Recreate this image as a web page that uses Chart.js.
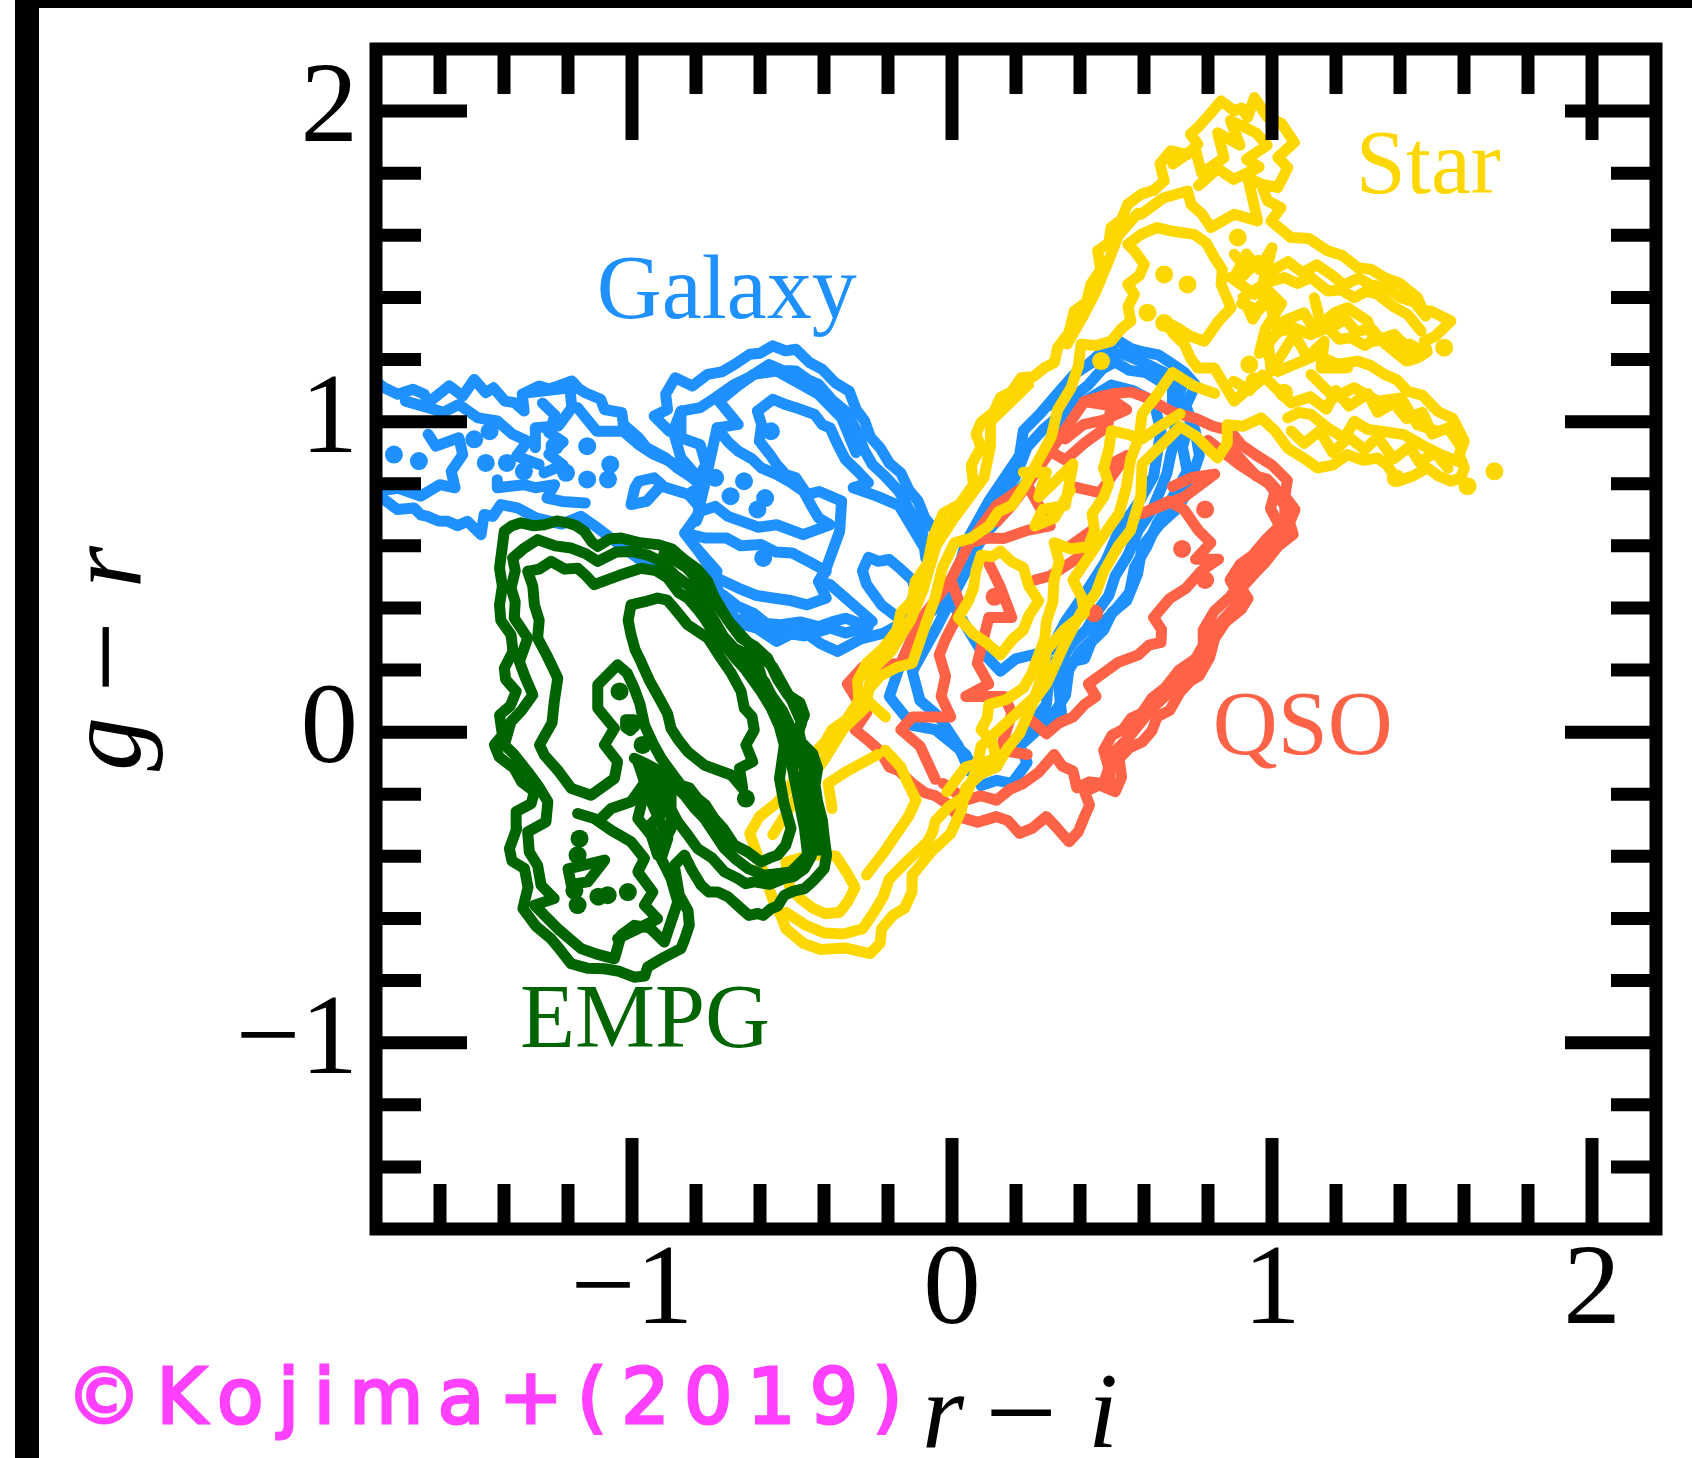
<!DOCTYPE html>
<html>
<head>
<meta charset="utf-8">
<title>g-r vs r-i</title>
<script src="https://cdn.jsdelivr.net/npm/chart.js@4"></script>
<style>
  html, body { margin: 0; padding: 0; background: #fff; }
  #page { position: relative; width: 1692px; height: 1458px; overflow: hidden; background: #fff; }
  #topbar { position: absolute; left: 15px; right: 0; top: 0; height: 8px; background: #000; }
  #sidebar { position: absolute; left: 15px; top: 0; bottom: 0; width: 24px; background: #000; }
  #credit { position: absolute; left: 66px; top: 1352px; color: #ff40ff; font: 76px "DejaVu Sans"; letter-spacing: 14.5px; white-space: nowrap; -webkit-text-stroke: 3px #ff40ff; }
  canvas { position: absolute; left: 0; top: 0; }
</style>
</head>
<body>
<div id="page">
  <canvas id="myChart" width="1692" height="1458"></canvas>
  <div id="topbar"></div>
  <div id="sidebar"></div>
  <div id="credit">©Kojima+(2019)</div>
</div>
<script>
// tick positions
const xMajorTicks = [-1, 0, 1, 2];
const yMajorTicks = [-1, 0, 1, 2];
const xMinorTicks = [-1.6, -1.4, -1.2, -0.8, -0.6, -0.4, -0.2, 0.2, 0.4, 0.6, 0.8, 1.2, 1.4, 1.6, 1.8];
const yMinorTicks = [-1.4, -1.2, -0.8, -0.6, -0.4, -0.2, 0.2, 0.4, 0.6, 0.8, 1.2, 1.4, 1.6, 1.8];

// EMPG contours [r-i, g-r]
const empgOuter = [[-1.399,.647],[-1.375,.665],[-1.347,.674],[-1.310,.665],[-1.274,.668],[-1.235,.680],[-1.201,.674],[-1.175,.665],[-1.149,.647],[-1.125,.612],[-1.107,.598],[-1.070,.622],[-1.034,.625],[-.975,.610],[-.920,.604],[-.875,.590],[-.836,.555],[-.795,.525],[-.763,.485],[-.745,.440],[-.722,.399],[-.690,.345],[-.659,.303],[-.615,.275],[-.576,.238],[-.545,.170],[-.513,.120],[-.475,.095],[-.461,.055],[-.480,.010],[-.472,-.031],[-.435,-.070],[-.420,-.117],[-.428,-.170],[-.420,-.224],[-.405,-.285],[-.399,-.342],[-.392,-.395],[-.399,-.439],[-.435,-.480],[-.461,-.504],[-.495,-.512],[-.524,-.525],[-.545,-.560],[-.565,-.568],[-.590,-.590],[-.607,-.584],[-.635,-.590],[-.659,-.568],[-.700,-.530],[-.732,-.515],[-.760,-.515],[-.784,-.493],[-.815,-.440],[-.836,-.396],[-.868,-.429],[-.852,-.525],[-.825,-.575],[-.821,-.622],[-.835,-.665],[-.847,-.697],[-.900,-.725],[-.951,-.756],[-.960,-.785],[-.993,-.789],[-1.040,-.770],[-1.086,-.762],[-1.140,-.760],[-1.190,-.746],[-1.225,-.700],[-1.253,-.665],[-1.300,-.625],[-1.341,-.568],[-1.325,-.500],[-1.336,-.439],[-1.375,-.415],[-1.383,-.375],[-1.360,-.310],[-1.362,-.256],[-1.315,-.230],[-1.305,-.192],[-1.345,-.160],[-1.368,-.117],[-1.415,-.080],[-1.430,-.041],[-1.405,-.010],[-1.414,.055],[-1.380,.085],[-1.362,.131],[-1.395,.170],[-1.399,.206],[-1.372,.260],[-1.378,.313],[-1.410,.360],[-1.414,.410],[-1.405,.470],[-1.414,.528],[-1.405,.600]];
const empgSecond = [[-1.373,.561],[-1.340,.590],[-1.295,.620],[-1.240,.600],[-1.190,.593],[-1.145,.575],[-1.107,.550],[-1.050,.580],[-1.003,.582],[-.950,.570],[-.909,.550],[-.865,.505],[-.826,.475],[-.785,.430],[-.753,.378],[-.715,.310],[-.680,.270],[-.640,.250],[-.607,.217],[-.590,.160],[-.565,.120],[-.530,.070],[-.503,.012],[-.520,-.020],[-.513,-.052],[-.480,-.080],[-.461,-.117],[-.462,-.170],[-.451,-.224],[-.440,-.290],[-.430,-.353],[-.440,-.400],[-.461,-.439],[-.495,-.465],[-.524,-.471],[-.570,-.490],[-.618,-.482],[-.645,-.488],[-.670,-.471],[-.711,-.450],[-.750,-.405],[-.795,-.375],[-.830,-.325],[-.857,-.289],[-.890,-.225],[-.920,-.181],[-.982,-.095],[-.940,-.224],[-.888,-.342],[-.909,-.407],[-.878,-.471],[-.857,-.547],[-.878,-.611],[-.899,-.676],[-.945,-.630],[-.993,-.622],[-1.034,-.654],[-1.055,-.730],[-1.110,-.715],[-1.159,-.697],[-1.232,-.633],[-1.305,-.557],[-1.243,-.536],[-1.284,-.493],[-1.295,-.429],[-1.321,-.386],[-1.326,-.321],[-1.269,-.289],[-1.263,-.224],[-1.295,-.170],[-1.326,-.127],[-1.370,-.070],[-1.399,-.041],[-1.378,.034],[-1.345,.070],[-1.310,.120],[-1.335,.180],[-1.352,.227],[-1.326,.303],[-1.368,.367],[-1.365,.420],[-1.378,.464],[-1.365,.520]];
const empgCrescent = [[-1.326,.518],[-1.290,.525],[-1.253,.550],[-1.210,.525],[-1.170,.528],[-1.145,.505],[-1.118,.475],[-1.040,.505],[-.972,.528],[-.925,.520],[-.888,.496],[-.855,.450],[-.826,.432],[-.795,.395],[-.774,.367],[-.745,.320],[-.711,.281],[-.675,.235],[-.649,.206],[-.620,.165],[-.597,.131],[-.565,.077],[-.540,.020],[-.524,-.041],[-.539,-.149],[-.525,-.230],[-.503,-.310],[-.520,-.365],[-.545,-.396],[-.570,-.405],[-.597,-.418],[-.638,-.386],[-.680,-.364],[-.715,-.310],[-.743,-.278],[-.770,-.235],[-.795,-.214],[-.820,-.180],[-.847,-.171],[-.880,-.125],[-.909,-.084],[-.935,-.035],[-.961,.023],[-.975,.090],[-.993,.141],[-1.015,.190],[-1.045,.217],[-1.107,.152],[-1.107,.077],[-1.055,.012],[-1.086,-.041],[-1.045,-.095],[-1.055,-.149],[-1.128,-.203],[-1.190,-.181],[-1.230,-.125],[-1.274,-.074],[-1.289,-.041],[-1.250,.030],[-1.243,.098],[-1.232,.174],[-1.265,.245],[-1.295,.303],[-1.290,.360],[-1.305,.410],[-1.310,.470]];
const empgEllipse = [[-1.003,.410],[-.960,.420],[-.920,.432],[-.890,.425],[-.868,.399],[-.826,.346],[-.763,.303],[-.722,.238],[-.690,.190],[-.659,.131],[-.649,.077],[-.625,.050],[-.618,.007],[-.644,-.041],[-.623,-.095],[-.664,-.117],[-.654,-.181],[-.690,-.138],[-.774,-.106],[-.826,-.063],[-.855,-.025],[-.878,.012],[-.889,.060],[-.909,.098],[-.945,.165],[-.972,.227],[-.990,.265],[-1.003,.313],[-1.012,.360]];
const empgRight = [[-.993,-.084],[-.950,-.105],[-.909,-.128],[-.870,-.170],[-.836,-.203],[-.805,-.245],[-.774,-.278],[-.740,-.330],[-.711,-.375],[-.675,-.410],[-.638,-.439],[-.586,-.461],[-.503,-.450],[-.451,-.396],[-.461,-.310],[-.482,-.203],[-.503,-.095],[-.534,.055],[-.586,.163],[-.659,.238]];
const empgEdge = [[-.900,.575],[-.830,.530],[-.760,.450],[-.700,.360],[-.630,.280],[-.560,.210],[-.500,.100],[-.470,.030],[-.490,-.030],[-.445,-.100],[-.430,-.240],[-.415,-.380]];
const empgLobe = [[-1.170,-.262],[-1.118,-.278],[-1.065,-.316],[-1.003,-.353],[-.961,-.407],[-.982,-.450],[-.935,-.515],[-.961,-.557],[-.920,-.601],[-.982,-.633],[-1.045,-.665]];
const empgKnot = [[-1.097,-.278],[-1.065,-.246],[-1.003,-.224],[-.951,-.149],[-.909,-.138],[-.878,-.203],[-.878,-.310],[-.920,-.396],[-.940,-.332],[-.982,-.278],[-.961,-.192],[-.920,-.181],[-.905,-.260],[-.945,-.300],[-.905,-.380]];
const empgRing = [[-1.020,.040],[-.995,.040],[-.990,.020],[-1.005,.005],[-1.020,.015]];
const empgLeaf = [[-1.200,-.440],[-1.085,-.412],[-1.138,-.482],[-1.190,-.490]];
const empgDots = [[-1.039,.131],[-.967,-.041],[-.644,-.214],[-1.164,-.343],[-1.170,-.396],[-1.170,-.557],[-1.076,-.525],[-1.013,-.515],[-1.105,-.530],[-1.180,-.510]];

// Galaxy contours
const galaxyBandTop = [[-1.800,1.130],[-1.774,1.109],[-1.732,1.088],[-1.684,1.104],[-1.649,1.088],[-1.637,1.061],[-1.571,1.115],[-1.529,1.082],[-1.493,1.136],[-1.457,1.093],[-1.433,1.109],[-1.397,1.066],[-1.367,1.061],[-1.337,1.034],[-1.343,1.088],[-1.290,1.115],[-1.260,1.105],[-1.230,1.115],[-1.188,1.131],[-1.165,1.105],[-1.146,1.093],[-1.098,1.072],[-1.086,1.039],[-1.032,1.029],[-1.027,.991],[-.979,.948],[-.955,.916],[-.895,.883],[-.859,.851],[-.811,.819],[-.775,.787],[-.811,.776],[-.787,.711],[-.835,.641],[-.799,.593],[-.734,.518]];
const galaxyBandBottom = [[-1.800,.770],[-1.774,.749],[-1.733,.717],[-1.681,.722],[-1.660,.700],[-1.639,.695],[-1.605,.680],[-1.576,.679],[-1.545,.665],[-1.514,.679],[-1.472,.636],[-1.462,.701],[-1.435,.695],[-1.410,.733],[-1.358,.722],[-1.300,.690],[-1.220,.670],[-1.160,.695],[-1.108,.658],[-1.066,.625],[-1.024,.593],[-.983,.561],[-.931,.528],[-.873,.490],[-.800,.470],[-.734,.464],[-.700,.400],[-.668,.351],[-.610,.335],[-.548,.292],[-.505,.315],[-.464,.324],[-.410,.285],[-.357,.260],[-.285,.300],[-.213,.319],[-.166,.346]];
const galaxyLowerInner = [[-.716,.442],[-.670,.405],[-.620,.383],[-.580,.350],[-.536,.346],[-.475,.355],[-.417,.340],[-.375,.355],[-.333,.367],[-.261,.340],[-.333,.319],[-.381,.335],[-.464,.310],[-.560,.325],[-.650,.370]];
const galaxyLoopA = [[-.835,.641],[-.770,.625],[-.704,.625],[-.660,.600],[-.596,.604],[-.550,.580],[-.500,.577],[-.440,.545],[-.393,.518],[-.417,.485],[-.393,.432],[-.453,.410],[-.510,.425],[-.560,.432],[-.610,.440],[-.668,.464],[-.734,.496],[-.770,.550],[-.799,.593]];
const galaxyInnerLoop = [[-.608,1.034],[-.560,1.072],[-.520,1.055],[-.488,1.045],[-.429,1.023],[-.405,.990],[-.381,.980],[-.357,.926],[-.333,.878],[-.295,.840],[-.261,.803],[-.309,.787],[-.235,.760],[-.166,.730],[-.125,.660],[-.090,.600]];
const galaxyInnerLine = [[-.608,1.034],[-.595,.990],[-.602,.937],[-.570,.895],[-.548,.862],[-.520,.830],[-.488,.819],[-.453,.765],[-.415,.775],[-.381,.760],[-.345,.744],[-.351,.647],[-.393,.528],[-.417,.485],[-.381,.475],[-.249,.357]];
const galaxyLobeOuter = [[-.883,.969],[-.931,1.018],[-.889,1.039],[-.895,1.088],[-.865,1.141],[-.811,1.115],[-.764,1.152],[-.720,1.160],[-.680,1.184],[-.632,1.217],[-.600,1.220],[-.560,1.244],[-.520,1.228],[-.488,1.233],[-.445,1.190],[-.405,1.168],[-.365,1.125],[-.321,1.098],[-.300,1.040],[-.273,1.002],[-.255,.950],[-.225,.916],[-.195,.865],[-.160,.835],[-.135,.780],[-.106,.744],[-.085,.690],[-.052,.647],[-.070,.572]];
const galaxyLobeSecond = [[-.847,1.034],[-.787,1.045],[-.740,1.077],[-.680,1.120],[-.630,1.145],[-.572,1.184],[-.530,1.165],[-.488,1.163],[-.450,1.135],[-.417,1.120],[-.375,1.070],[-.333,1.034],[-.297,.969],[-.275,.910],[-.249,.862],[-.210,.825],[-.166,.776],[-.130,.710],[-.094,.658],[-.082,.561]];
const galaxyLobeThird = [[-.734,.980],[-.668,.991],[-.728,1.066],[-.670,1.115],[-.620,1.152],[-.548,1.163],[-.480,1.125],[-.417,1.088],[-.345,1.012],[-.320,.950],[-.300,.900]];
const galaxyLoopB = [[-.734,.980],[-.700,.935],[-.668,.905],[-.625,.880],[-.596,.851],[-.548,.830],[-.505,.805],[-.464,.776],[-.440,.730],[-.417,.690],[-.381,.668],[-.465,.636],[-.548,.668],[-.605,.660],[-.656,.679],[-.700,.695],[-.740,.727],[-.787,.711],[-.799,.679]];
const galaxyLoopC = [[-.847,1.034],[-.847,.948],[-.787,.926],[-.769,.862],[-.793,.819],[-.847,.883],[-.871,.969]];
const galaxyBandInnerA = [[-1.637,.959],[-1.613,.921],[-1.541,.948],[-1.529,.894],[-1.565,.840],[-1.553,.787],[-1.601,.797],[-1.661,.760],[-1.730,.785],[-1.800,.776]];
const galaxyBandInnerB = [[-1.708,1.066],[-1.637,1.045],[-1.590,1.030],[-1.541,1.055],[-1.481,1.012],[-1.421,1.002],[-1.373,.959],[-1.326,.937],[-1.361,.889],[-1.290,.862]];
const galaxyBandInnerC = [[-1.326,1.093],[-1.194,1.109],[-1.188,1.045],[-1.230,.986],[-1.302,.980],[-1.302,.916]];
const galaxyBandInnerD = [[-1.421,.813],[-1.421,.787],[-1.338,.797],[-1.302,.787],[-1.242,.797],[-1.266,.754],[-1.218,.743],[-1.146,.738]];
const galaxyBandInnerE = [[-1.170,1.045],[-1.110,.969],[-1.027,.969],[-.979,.926],[-.931,.894],[-.859,.862],[-.799,.808]];
const galaxyBandInnerF = [[-1.280,1.060],[-1.240,1.020],[-1.260,.965],[-1.215,.935],[-1.260,.895],[-1.215,.860],[-1.275,.835]];
const galaxyRingA = [[-.979,.808],[-.931,.819],[-.907,.797],[-.955,.743],[-1.003,.733],[-.991,.787]];
const galaxyStrand = [[-.907,.792],[-.823,.765],[-.787,.722]];
const galaxySmallLoop = [[-.261,.563],[-.230,.550],[-.196,.556],[-.160,.525],[-.124,.490],[-.112,.449],[-.160,.362],[-.220,.409],[-.245,.445],[-.267,.476],[-.280,.520]];
const galaxyVOuter = [[.522,1.259],[.560,1.235],[.594,1.225],[.645,1.215],[.689,1.185],[.725,1.160],[.761,1.118],[.731,1.051],[.760,.970],[.773,.891],[.755,.837],[.735,.770],[.701,.717],[.650,.670],[.594,.597],[.580,.510],[.546,.423],[.500,.385],[.474,.329],[.435,.290],[.414,.236],[.365,.225],[.330,.182],[.342,.062],[.283,.022],[.211,-.045],[.235,-.098],[.187,-.165],[.140,-.155],[.091,-.172],[.043,-.072],[-.052,.008],[-.124,.022],[-.196,.115],[-.160,.222],[-.100,.360],[-.004,.436],[.043,.610],[.115,.744],[.211,.891],[.223,.971],[.275,1.025],[.330,1.091],[.380,1.150],[.426,1.185],[.475,1.230]];
const galaxyVSecond = [[.510,1.192],[.555,1.165],[.606,1.158],[.650,1.130],[.689,1.118],[.689,1.025],[.700,.960],[.683,.891],[.672,.835],[.653,.784],[.625,.715],[.582,.650],[.550,.570],[.510,.503],[.490,.440],[.450,.383],[.420,.330],[.378,.289],[.345,.240],[.307,.222],[.295,.089],[.235,.008],[.163,-.058],[.139,-.112],[.055,-.125],[.020,-.045],[-.040,.049],[-.100,.102],[-.124,.196],[-.052,.329],[.043,.517],[.115,.690],[.199,.824],[.235,.918],[.285,.975],[.342,1.025],[.385,1.085],[.426,1.118],[.470,1.170]];
const galaxyVThird = [[.498,1.118],[.565,1.100],[.630,1.065],[.653,.971],[.630,.824],[.580,.735],[.522,.650],[.480,.550],[.426,.463],[.354,.356],[.307,.263],[.199,.236],[.151,.196],[.091,.262],[-.004,.423],[.055,.557],[.105,.640],[.163,.704],[.205,.770],[.247,.824],[.307,.944],[.360,1.005],[.414,1.065]];
const galaxyVRightBand = [[.745,1.000],[.720,.920],[.735,.840],[.680,.740],[.640,.670],[.610,.600],[.570,.530],[.555,.450],[.515,.400],[.470,.350],[.440,.300],[.400,.260],[.365,.200],[.355,.120],[.325,.070],[.290,.040]];
const galaxyVTop = [[.300,1.050],[.390,1.160],[.470,1.210],[.530,1.220],[.600,1.190],[.660,1.160],[.720,1.120],[.700,1.050]];
const galaxyDots = [[-1.744,.894],[-1.666,.873],[-1.493,.943],[-1.445,.969],[-1.457,.867],[-1.391,.867],[-1.338,.840],[-1.242,.921],[-1.140,.921],[-1.068,.862],[-1.206,.835],[-1.140,.814],[-1.075,.814],[-.740,.819],[-.650,.808],[-.692,.760],[-.584,.754],[-.608,.717],[-.566,.969],[-.590,.561]];

// QSO contours
const qsoOuter = [[.510,1.091],[.560,1.095],[.606,1.078],[.690,1.030],[.761,1.011],[.815,.985],[.869,.971],[.905,.925],[.952,.891],[1.000,.860],[1.048,.811],[1.040,.760],[1.072,.717],[1.055,.675],[1.066,.637],[1.020,.600],[.976,.543],[.945,.510],[.904,.463],[.925,.430],[.904,.396],[.855,.355],[.821,.303],[.805,.240],[.773,.182],[.745,.165],[.713,.129],[.680,.070],[.641,.049],[.625,.005],[.594,-.032],[.555,-.050],[.522,-.085],[.530,-.145],[.510,-.192],[.460,-.170],[.414,-.192],[.430,-.235],[.414,-.272],[.395,-.320],[.366,-.353],[.325,-.305],[.295,-.272],[.250,-.310],[.211,-.326],[.175,-.285],[.139,-.272],[.080,-.290],[.020,-.272],[-.015,-.230],[-.052,-.205],[-.085,-.195],[-.124,-.165],[-.165,-.125],[-.196,-.112],[-.225,-.060],[-.256,-.032],[-.303,.008],[-.267,.062],[-.300,.110],[-.327,.155],[-.279,.209],[-.160,.222],[-.100,.360],[-.004,.490],[.055,.610],[.139,.730],[.235,.797],[.307,.904],[.414,1.065]];
const qsoSecond = [[.869,.918],[.915,.865],[.952,.824],[.985,.815],[1.012,.784],[.995,.720],[1.024,.664],[.985,.625],[.940,.570],[.900,.540],[.869,.490],[.885,.460],[.869,.436],[.820,.390],[.785,.329],[.785,.280],[.761,.236],[.710,.200],[.665,.142],[.625,.110],[.594,.062],[.560,.045],[.534,.008],[.500,-.010],[.474,-.058],[.490,-.115],[.474,-.165],[.430,-.160],[.390,-.179],[.378,-.125],[.345,-.110],[.319,-.072],[.270,-.130],[.223,-.165],[.180,-.185],[.139,-.219],[.090,-.205],[.043,-.219],[-.028,-.165]];
const qsoThird = [[.689,.791],[.750,.820],[.821,.831],[.725,.757],[.594,.704],[.677,.744],[.725,.717],[.770,.650],[.809,.610],[.761,.557],[.833,.557],[.780,.520],[.731,.463],[.680,.430],[.630,.369],[.655,.330],[.653,.289],[.615,.280],[.582,.249],[.520,.225],[.462,.182],[.426,.155],[.450,.115],[.415,.090],[.378,.049],[.335,.030],[.295,-.005],[.235,.049]];
const qsoEdge = [[.800,.940],[.900,.860],[.990,.800],[1.040,.730],[1.040,.650],[.960,.560],[.890,.470],[.890,.410],[.800,.310],[.770,.210],[.690,.140],[.620,.070],[.550,-.020],[.500,-.070],[.490,-.180]];
const qsoTopBlob = [[.307,.904],[.354,.877],[.414,.931],[.486,.984],[.498,1.051],[.414,1.065],[.480,1.085],[.546,1.038],[.474,1.005],[.410,.990],[.354,.944]];
const qsoInnerA = [[.378,.791],[.462,.771],[.546,.891],[.474,.851]];
const qsoInnerB = [[.055,.610],[.110,.625],[.163,.624],[.235,.650],[.307,.664],[.235,.797],[.187,.730],[.139,.677]];
const qsoInnerC = [[-.004,.490],[.030,.400],[.008,.356],[-.020,.300],[-.040,.249],[-.020,.180],[-.034,.115],[-.004,.049],[-.124,.049],[-.160,.008],[-.100,-.045],[-.052,-.152]];
const qsoInnerD = [[.115,.543],[.150,.470],[.187,.369],[.115,.369],[.079,.222],[.115,.155],[.043,.115],[.163,.115],[.187,.062],[.151,-.058],[.235,-.072]];
const qsoInnerE = [[.438,.650],[.366,.597],[.426,.583],[.307,.503],[.259,.490]];
const qsoDots = [[.133,.436],[.444,.383],[.719,.590],[.791,.717],[.791,.490]];

// Star contours
const starOuter = [[-.632,-.326],[-.602,-.272],[-.550,-.230],[-.507,-.179],[-.475,-.110],[-.435,-.072],[-.395,-.030],[-.375,.008],[-.330,.040],[-.291,.102],[-.295,.165],[-.267,.222],[-.215,.270],[-.172,.329],[-.160,.385],[-.124,.423],[-.115,.485],[-.076,.543],[-.060,.625],[-.028,.704],[.025,.735],[.067,.797],[.060,.860],[.091,.918],[.075,.960],[.091,.998],[.130,1.030],[.151,1.078],[.185,1.095],[.216,1.141],[.255,1.145],[.288,1.173],[.320,1.190],[.330,1.238],[.365,1.285],[.382,1.356],[.420,1.385],[.434,1.442],[.465,1.490],[.455,1.550],[.490,1.575],[.497,1.625],[.530,1.650],[.549,1.700],[.575,1.720],[.591,1.732],[.630,1.745],[.663,1.775],[.650,1.830],[.684,1.872],[.735,1.860],[.768,1.894],[.745,1.925],[.768,1.947],[.810,1.995],[.841,2.033],[.882,2.001],[.905,2.010],[.924,1.980],[.945,2.044],[.986,1.980],[1.030,1.960],[1.070,1.899],[1.018,1.851],[1.049,1.818],[1.018,1.754],[.966,1.765],[.986,1.711],[1.028,1.689],[.997,1.646],[1.059,1.593],[1.115,1.590],[1.174,1.550],[1.220,1.535],[1.268,1.496],[1.310,1.490],[1.351,1.464],[1.400,1.445],[1.455,1.399],[1.470,1.360],[1.497,1.356],[1.559,1.324],[1.510,1.275],[1.476,1.259],[1.485,1.225],[1.455,1.205],[1.420,1.195],[1.382,1.227],[1.330,1.270],[1.290,1.245],[1.247,1.270],[1.210,1.265],[1.174,1.302],[1.120,1.280],[1.070,1.302],[1.020,1.290],[.976,1.238],[1.018,1.162],[1.140,1.215],[1.205,1.185],[1.268,1.195],[1.310,1.180],[1.351,1.152],[1.390,1.135],[1.424,1.098],[1.470,1.085],[1.518,1.033],[1.565,1.010],[1.601,.937],[1.585,.895],[1.601,.851],[1.590,.820],[1.559,.808],[1.520,.825],[1.486,.851],[1.440,.825],[1.393,.808],[1.360,.860],[1.330,.883],[1.285,.875],[1.236,.894],[1.190,.860],[1.143,.851],[1.095,.885],[1.049,.915],[1.010,.970],[.966,1.012],[.910,.985],[.861,.990],[.860,.930],[.830,.883],[.809,.904],[.760,.955],[.713,.984],[.650,.920],[.594,.864],[.590,.760],[.558,.650],[.520,.600],[.474,.517],[.450,.450],[.402,.383],[.350,.280],[.295,.155],[.255,.100],[.211,-.005],[.175,-.050],[.139,-.112],[.090,-.135],[.043,-.179],[.030,-.250],[-.004,-.326],[-.065,-.385],[-.124,-.460],[-.125,-.515],[-.148,-.567],[-.185,-.590],[-.220,-.633],[-.225,-.680],[-.256,-.713],[-.335,-.695],[-.411,-.700],[-.465,-.680],[-.519,-.633],[-.535,-.590],[-.555,-.553]];
const starLeftInner = [[-.208,.049],[-.279,.115],[-.225,.180],[-.172,.209],[-.124,.222],[-.090,.325],[-.052,.436],[-.030,.530],[.008,.610],[.060,.625],[.115,.664],[.145,.710],[.187,.730],[.225,.790],[.271,.877],[.310,.950],[.330,1.038],[.372,1.109],[.395,1.180],[.403,1.249],[.450,1.245],[.497,1.259],[.530,1.300],[.559,1.324],[.550,1.370],[.570,1.410],[.549,1.442],[.585,1.470],[.601,1.506],[.570,1.550],[.549,1.571],[.591,1.603],[.640,1.625],[.684,1.614],[.757,1.603],[.795,1.575],[.820,1.528],[.845,1.490],[.841,1.442],[.872,1.367],[.830,1.320],[.789,1.259],[.745,1.275],[.705,1.302],[.663,1.324],[.695,1.280],[.726,1.249],[.745,1.205],[.768,1.173],[.820,1.173],[.850,1.120],[.882,1.066],[.930,1.110],[.976,1.141]];
const starLeftEdge = [[-.560,-.330],[-.480,-.200],[-.400,-.090],[-.340,.010],[-.270,.080],[-.250,.200],[-.190,.260],[-.130,.360],[-.090,.460],[-.050,.600],[0,.680],[.050,.750],[.100,.820],[.120,.920],[.120,1.000],[.180,1.060],[.240,1.120]];
const starUpperEdge = [[.360,1.250],[.410,1.340],[.450,1.420],[.490,1.520],[.520,1.600],[.580,1.670]];
const starTopInner = [[.591,1.668],[.660,1.720],[.736,1.743],[.747,1.700],[.780,1.670],[.809,1.625],[.882,1.668],[.955,1.646],[.940,1.715],[.924,1.786],[.966,1.765]];
const starTopKnot = [[.690,1.830],[.760,1.880],[.780,1.800],[.850,1.850],[.830,1.930],[.900,1.890],[.870,1.970],[.950,1.930],[.985,1.890],[.920,1.845],[.960,1.820],[.880,1.780],[.830,1.815],[.770,1.760]];
const starRightInner = [[.713,1.025],[.650,.985],[.594,.944],[.545,.960],[.498,.971],[.490,.910],[.474,.851],[.490,.800],[.474,.757],[.438,.704],[.445,.650],[.426,.597],[.370,.590],[.319,.610],[.335,.550],[.319,.490],[.315,.420],[.295,.356],[.290,.300],[.271,.249],[.250,.190],[.223,.142],[.170,.105],[.115,.089],[.110,.045],[.091,.008],[.125,-.030],[.139,-.085],[.043,-.112],[-.016,-.192]];
const starBottomInner = [[.821,1.091],[.755,1.115],[.689,1.158],[.640,1.085],[.594,1.025],[.585,.950],[.558,.878],[.545,.790],[.522,.704],[.450,.600],[.378,.490],[.405,.435],[.414,.383],[.350,.330],[.295,.263],[.285,.190],[.259,.115],[.180,.040],[.091,-.045],[.075,-.125],[.043,-.205],[-.010,-.240],[-.052,-.286],[-.060,-.320],[-.076,-.353],[-.135,-.410],[-.196,-.473],[-.215,-.530],[-.244,-.580],[-.279,-.633],[-.340,-.650],[-.399,-.647],[-.460,-.620],[-.519,-.580]];
const starCentreLoop = [[.091,.570],[.125,.565],[.151,.583],[.185,.550],[.223,.530],[.240,.470],[.271,.423],[.240,.375],[.223,.329],[.190,.300],[.151,.249],[.105,.290],[.067,.316],[.020,.369],[.050,.420],[.067,.463],[.075,.520]];
const starLowerLeft = [[-.232,-.072],[-.327,-.125],[-.387,-.165],[-.375,-.246]];
const starLowerLoop = [[-.519,-.419],[-.440,-.395],[-.363,-.399],[-.330,-.450],[-.303,-.500],[-.325,-.545],[-.351,-.580],[-.395,-.585],[-.435,-.567],[-.475,-.535],[-.507,-.500]];
const starLowerLine = [[-.208,-.058],[-.160,-.112],[-.140,-.160],[-.112,-.219],[-.136,-.272],[-.175,-.330],[-.208,-.380],[-.267,-.460]];
const starBlob = [[.223,.837],[.295,.837],[.271,.757],[.325,.810],[.378,.864],[.354,.730],[.283,.717],[.259,.664],[.320,.690],[.370,.780]];
const starArmUpperA = [[.872,1.464],[.945,1.410],[.990,1.450],[1.038,1.464],[1.080,1.445],[1.122,1.464],[1.174,1.421],[1.215,1.425],[1.257,1.399],[1.295,1.420],[1.330,1.410],[1.380,1.370],[1.424,1.345],[1.466,1.292]];
const starArmUpperB = [[1.132,1.399],[1.153,1.313],[1.195,1.350],[1.236,1.367],[1.299,1.324],[1.320,1.259],[1.382,1.281],[1.445,1.216]];
const starArmUpperC = [[.882,1.539],[.915,1.500],[.905,1.465],[.958,1.520],[.990,1.480],[1.050,1.515],[1.095,1.480],[1.140,1.505],[1.190,1.470],[1.225,1.440],[1.270,1.462],[1.310,1.440],[1.360,1.430],[1.400,1.400],[1.445,1.385],[1.480,1.340]];
const starArmUpperD = [[.905,1.380],[.960,1.360],[.990,1.400],[1.010,1.310],[1.050,1.330],[1.100,1.350],[1.130,1.300],[1.180,1.300],[1.230,1.330],[1.262,1.290],[1.310,1.300],[1.345,1.260],[1.392,1.240],[1.430,1.250],[1.470,1.225]];
const starKnot = [[.880,1.460],[.920,1.540],[.960,1.490],[1.000,1.560],[.970,1.440],[.910,1.400],[.940,1.330],[.990,1.420],[1.030,1.380],[.980,1.300],[.960,1.220]];
const starArmLowerA = [[1.049,1.012],[1.085,1.030],[1.122,1.023],[1.174,.980],[1.226,.947],[1.257,1.001],[1.300,.975],[1.341,.969],[1.413,.958],[1.466,.926],[1.528,.894],[1.580,.872]];
const starArmLowerB = [[1.122,1.152],[1.195,1.077],[1.257,1.109],[1.330,1.066],[1.403,1.076],[1.455,.990],[1.518,.969]];
const starArmLowerC = [[.880,1.130],[.930,1.100],[.970,1.150],[1.020,1.100],[1.060,1.060],[1.120,1.080],[1.170,1.040],[1.200,1.100],[1.240,1.050],[1.300,1.090],[1.330,1.030],[1.380,1.060],[1.420,1.010],[1.470,1.030],[1.500,.960],[1.550,.980],[1.590,.920]];
const starArmLowerD = [[1.060,.970],[1.100,.930],[1.150,.970],[1.190,.900],[1.240,.950],[1.290,.910],[1.330,.950],[1.380,.880],[1.430,.920],[1.460,.870],[1.510,.900],[1.550,.850]];
const starArmMiddle = [[.986,1.281],[.997,1.162],[1.070,1.281],[1.111,1.206],[1.163,1.259],[1.153,1.173],[1.236,1.173]];
const starDots = [[1.538,1.238],[1.695,.840],[1.611,.792],[1.387,.818],[.663,1.474],[.736,1.442],[.611,1.351],[.663,1.318],[.929,1.184],[.893,1.593],[.466,1.195],[.945,1.130],[1.038,1.093]];

const empgColor = "#006400";
const galaxyColor = "#1e90ff";
const qsoColor = "#ff6347";
const starColor = "#ffd700";

function contour(points, color, closed) {
  let pts = closed ? points.concat([points[0]]) : points;
  return {
    data: pts.map((p) => ({ x: p[0], y: p[1] })),
    showLine: true,
    borderColor: color,
    borderWidth: 11,
    borderJoinStyle: "round",
    borderCapStyle: "round",
    pointRadius: 0,
    fill: false,
  };
}
function dots(points, color) {
  return {
    data: points.map((p) => ({ x: p[0], y: p[1] })),
    showLine: false,
    backgroundColor: color,
    borderColor: color,
    pointRadius: 9,
    pointBorderWidth: 0,
  };
}

// first dataset ends up on top
const datasets = [
  ...[empgOuter, empgSecond, empgCrescent, empgEllipse, empgRing, empgLeaf].map((c) => contour(c, empgColor, true)),
  ...[empgRight, empgEdge, empgLobe, empgKnot].map((c) => contour(c, empgColor, false)),
  dots(empgDots, empgColor),
  ...[starOuter, starCentreLoop, starLowerLoop].map((c) => contour(c, starColor, true)),
  ...[starLeftInner, starLeftEdge, starUpperEdge, starTopInner, starTopKnot, starRightInner, starBottomInner, starLowerLeft, starLowerLine, starBlob, starArmUpperA, starArmUpperB, starArmUpperC, starArmUpperD, starKnot, starArmLowerA, starArmLowerB, starArmLowerC, starArmLowerD, starArmMiddle].map((c) => contour(c, starColor, false)),
  dots(starDots, starColor),
  contour(qsoOuter, qsoColor, true),
  ...[qsoSecond, qsoThird, qsoEdge, qsoTopBlob, qsoInnerA, qsoInnerB, qsoInnerC, qsoInnerD, qsoInnerE].map((c) => contour(c, qsoColor, false)),
  dots(qsoDots, qsoColor),
  ...[galaxyVOuter, galaxyVSecond, galaxyVThird, galaxyLoopA, galaxyLoopB, galaxyLoopC, galaxyRingA, galaxySmallLoop].map((c) => contour(c, galaxyColor, true)),
  ...[galaxyVRightBand, galaxyVTop, galaxyBandTop, galaxyBandBottom, galaxyLowerInner, galaxyInnerLoop, galaxyInnerLine, galaxyLobeOuter, galaxyLobeSecond, galaxyLobeThird, galaxyBandInnerA, galaxyBandInnerB, galaxyBandInnerC, galaxyBandInnerD, galaxyBandInnerE, galaxyBandInnerF, galaxyStrand].map((c) => contour(c, galaxyColor, false)),
  dots(galaxyDots, galaxyColor),
];

const classLabels = [
  { text: "Galaxy", x: -1.11, y: 1.334, color: galaxyColor },
  { text: "EMPG", x: -1.35, y: -1.013, color: empgColor },
  { text: "QSO", x: 0.815, y: -0.07, color: qsoColor },
  { text: "Star", x: 1.262, y: 1.735, color: starColor },
];

const frameTicks = {
  id: "frameTicks",
  afterDatasetsDraw(chart) {
    const { ctx, chartArea: a, scales: { x, y } } = chart;
    ctx.save();
    ctx.strokeStyle = "#000";
    ctx.lineWidth = 13;
    const vert = (v, len) => {
      let px = x.getPixelForValue(v);
      ctx.beginPath(); ctx.moveTo(px, a.top); ctx.lineTo(px, a.top + len); ctx.stroke();
      ctx.beginPath(); ctx.moveTo(px, a.bottom); ctx.lineTo(px, a.bottom - len); ctx.stroke();
    };
    const horiz = (v, len) => {
      let py = y.getPixelForValue(v);
      ctx.beginPath(); ctx.moveTo(a.left, py); ctx.lineTo(a.left + len, py); ctx.stroke();
      ctx.beginPath(); ctx.moveTo(a.right, py); ctx.lineTo(a.right - len, py); ctx.stroke();
    };
    xMajorTicks.forEach((v) => vert(v, 91));
    xMinorTicks.forEach((v) => vert(v, 45));
    yMajorTicks.forEach((v) => horiz(v, 91));
    yMinorTicks.forEach((v) => horiz(v, 45));
    ctx.strokeRect(a.left, a.top, a.right - a.left, a.bottom - a.top);

    ctx.textAlign = "left";
    ctx.textBaseline = "alphabetic";
    ctx.font = '90px "Liberation Serif"';
    for (let l of classLabels) {
      ctx.fillStyle = l.color;
      ctx.fillText(l.text, x.getPixelForValue(l.x), y.getPixelForValue(l.y));
    }

    // axis titles
    ctx.fillStyle = "#000";
    ctx.font = 'italic 108px "Liberation Serif"';
    ctx.fillText("r", 922, 1447);
    ctx.fillText("i", 1088, 1447);
    ctx.font = '128px "Liberation Serif"';
    ctx.fillText("\u2212", 985, 1455);
    ctx.translate(140, 771);
    ctx.rotate(-Math.PI / 2);
    ctx.font = 'italic 108px "Liberation Serif"';
    ctx.fillText("g", 0, 0);
    ctx.fillText("r", 183, 0);
    ctx.font = '128px "Liberation Serif"';
    ctx.fillText("\u2212", 78, 8);
    ctx.restore();
  },
};

function tickLabel(majors) {
  return (v) => (majors.includes(v) ? String(v).replace("-", "\u2212") : null);
}
function zeroPadding(scale) {
  scale.paddingLeft = scale.paddingRight = scale.paddingTop = scale.paddingBottom = 0;
}

new Chart(document.getElementById("myChart"), {
  type: "scatter",
  data: { datasets },
  options: {
    responsive: false,
    animation: false,
    layout: { padding: { top: 49, right: 36, bottom: 0, left: 0 } },
    plugins: { legend: { display: false }, tooltip: { enabled: false } },
    scales: {
      x: {
        type: "linear",
        min: -1.8,
        max: 2.2,
        grid: { display: false },
        border: { display: false },
        afterBuildTicks(scale) {
          scale.ticks = [...xMajorTicks, ...xMinorTicks].sort((a, b) => a - b).map((v) => ({ value: v }));
        },
        afterFit(scale) { scale.height = 229; zeroPadding(scale); },
        ticks: {
          autoSkip: false,
          maxRotation: 0,
          padding: -13,
          color: "#000",
          font: { family: "Liberation Serif", size: 115 },
          callback: tickLabel(xMajorTicks),
        },
      },
      y: {
        type: "linear",
        min: -1.6,
        max: 2.2,
        grid: { display: false },
        border: { display: false },
        afterBuildTicks(scale) {
          scale.ticks = [...yMajorTicks, ...yMinorTicks].sort((a, b) => a - b).map((v) => ({ value: v }));
        },
        afterFit(scale) { scale.width = 376; zeroPadding(scale); },
        ticks: {
          autoSkip: false,
          padding: 10,
          color: "#000",
          font: { family: "Liberation Serif", size: 115 },
          callback: tickLabel(yMajorTicks),
        },
      },
    },
  },
  plugins: [frameTicks],
});
</script>
</body>
</html>
